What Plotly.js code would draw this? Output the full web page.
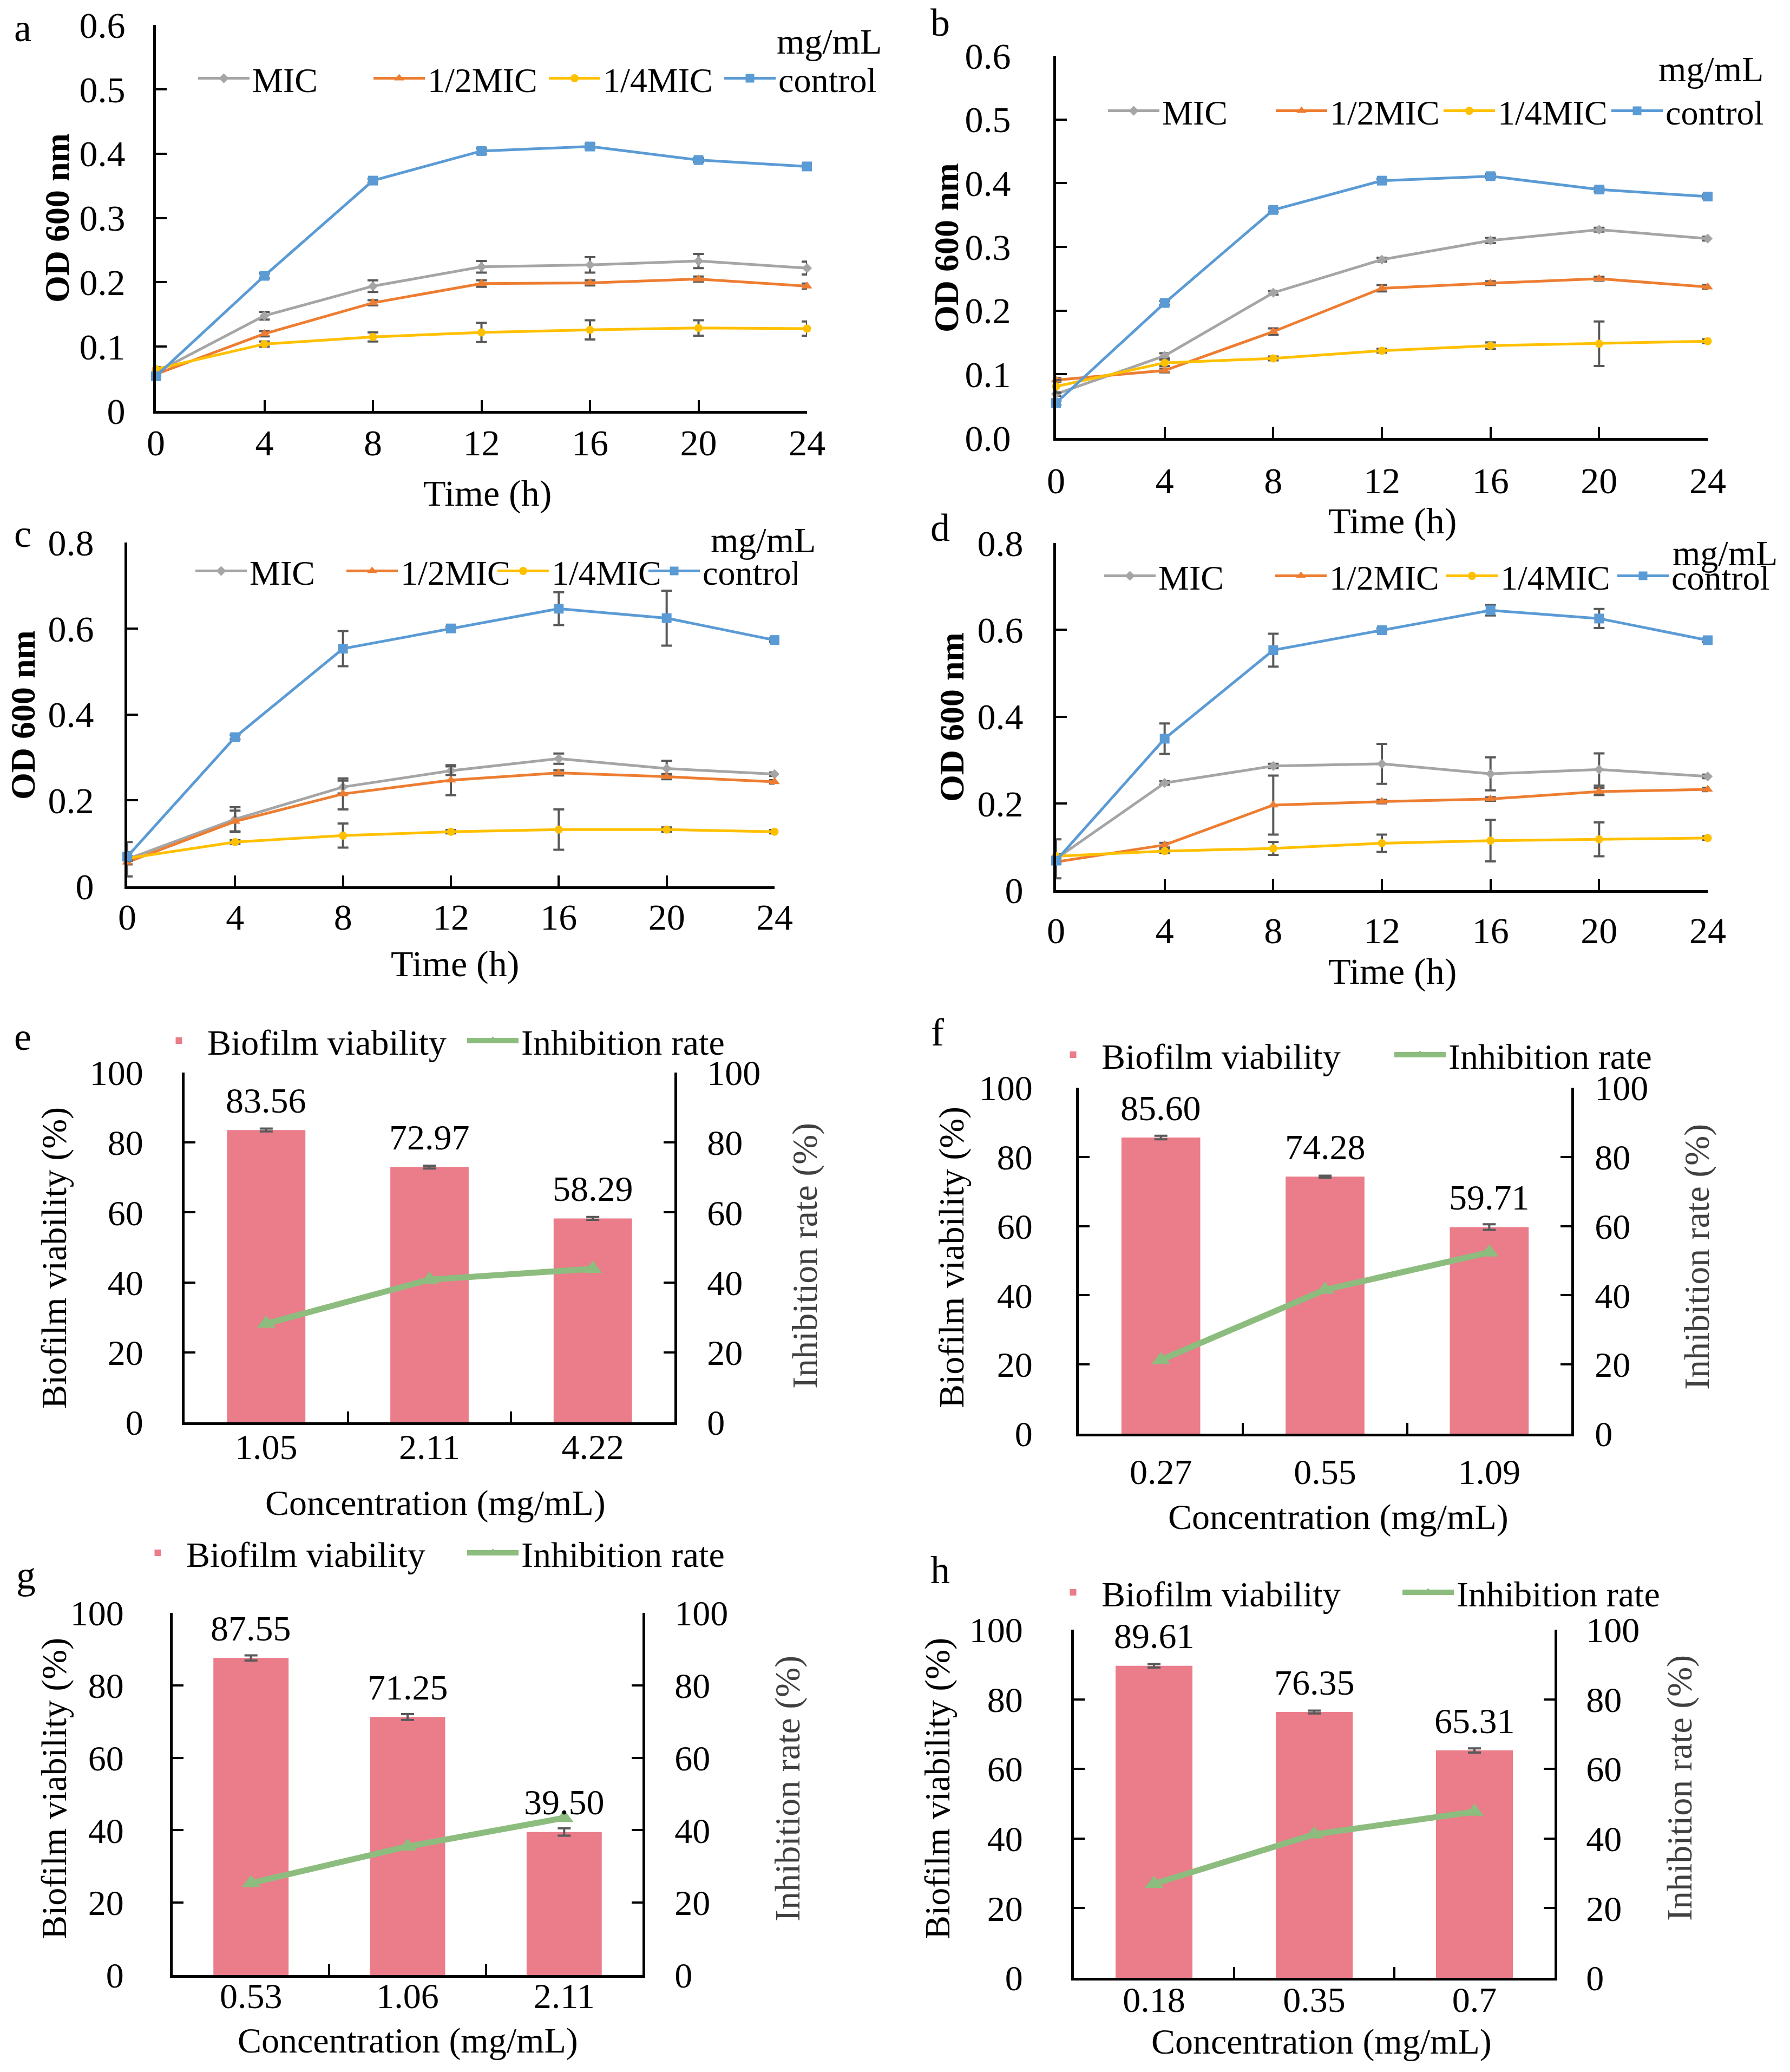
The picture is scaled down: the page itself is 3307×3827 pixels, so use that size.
<!DOCTYPE html>
<html>
<head>
<meta charset="utf-8">
<script src="https://cdn.plot.ly/plotly-3.0.1.min.js"></script>
<style>
  html, body { margin: 0; padding: 0; background: #fff; }
  #chart { width: 3307px; height: 3827px; }
</style>
</head>
<body>
<div id="chart"></div>
<script>
// ---- data ----
const timePoints = [0, 4, 8, 12, 16, 20, 24];
const seriesNames = ['MIC', '1/2MIC', '1/4MIC', 'control'];

// panel a
const aMIC = [0.060, 0.148, 0.194, 0.224, 0.227, 0.233, 0.222];
const aMICErr = [0.003, 0.006, 0.009, 0.009, 0.012, 0.011, 0.010];
const aHalf = [0.057, 0.120, 0.168, 0.198, 0.199, 0.205, 0.194];
const aHalfErr = [0.003, 0.004, 0.004, 0.005, 0.004, 0.004, 0.004];
const aQuarter = [0.065, 0.104, 0.115, 0.122, 0.126, 0.129, 0.128];
const aQuarterErr = [0.003, 0.004, 0.007, 0.015, 0.015, 0.012, 0.011];
const aControl = [0.054, 0.210, 0.358, 0.404, 0.411, 0.390, 0.380];
const aControlErr = [0.003, 0.004, 0.003, 0.004, 0.004, 0.003, 0.003];

// panel b
const bMIC = [0.069, 0.129, 0.228, 0.280, 0.310, 0.327, 0.313];
const bMICErr = [0.003, 0.004, 0.003, 0.003, 0.004, 0.003, 0.003];
const bHalf = [0.091, 0.106, 0.167, 0.235, 0.243, 0.250, 0.237];
const bHalfErr = [0.003, 0.003, 0.005, 0.005, 0.003, 0.003, 0.003];
const bQuarter = [0.081, 0.118, 0.125, 0.137, 0.145, 0.148, 0.152];
const bQuarterErr = [0.010, 0.005, 0.003, 0.003, 0.005, 0.035, 0.003];
const bControl = [0.055, 0.212, 0.358, 0.404, 0.411, 0.390, 0.379];
const bControlErr = [0.003, 0.003, 0.003, 0.003, 0.003, 0.003, 0.003];

// panel c
const cMIC = [0.063, 0.156, 0.231, 0.269, 0.297, 0.274, 0.261];
const cMICErr = [0.040, 0.028, 0.015, 0.010, 0.012, 0.018, 0.004];
const cHalf = [0.056, 0.151, 0.215, 0.247, 0.264, 0.255, 0.243];
const cHalfErr = [0.005, 0.025, 0.036, 0.035, 0.006, 0.006, 0.004];
const cQuarter = [0.065, 0.103, 0.118, 0.127, 0.132, 0.132, 0.127];
const cQuarterErr = [0.005, 0.004, 0.028, 0.004, 0.047, 0.005, 0.004];
const cControl = [0.069, 0.347, 0.553, 0.600, 0.646, 0.624, 0.573];
const cControlErr = [0.010, 0.005, 0.041, 0.004, 0.038, 0.064, 0.004];

// panel d
const dMIC = [0.072, 0.247, 0.286, 0.291, 0.268, 0.278, 0.262];
const dMICErr = [0.045, 0.004, 0.005, 0.046, 0.038, 0.037, 0.004];
const dHalf = [0.065, 0.104, 0.196, 0.204, 0.210, 0.227, 0.232];
const dHalfErr = [0.005, 0.005, 0.068, 0.004, 0.004, 0.008, 0.004];
const dQuarter = [0.078, 0.090, 0.096, 0.108, 0.114, 0.117, 0.120];
const dQuarterErr = [0.005, 0.004, 0.015, 0.020, 0.048, 0.039, 0.004];
const dControl = [0.068, 0.349, 0.553, 0.599, 0.645, 0.626, 0.576];
const dControlErr = [0.005, 0.035, 0.038, 0.004, 0.012, 0.022, 0.004];

// panels e-h
const eConc = ['1.05', '2.11', '4.22'];
const eViability = [83.56, 72.97, 58.29];
const eViabilityErr = [0.4, 0.4, 0.4];
const eInhibition = [28.2, 40.8, 43.9];

const fConc = ['0.27', '0.55', '1.09'];
const fViability = [85.60, 74.28, 59.71];
const fViabilityErr = [0.5, 0.3, 0.8];
const fInhibition = [21.3, 41.6, 52.4];

const gConc = ['0.53', '1.06', '2.11'];
const gViability = [87.55, 71.25, 39.50];
const gViabilityErr = [0.7, 0.8, 1.0];
const gInhibition = [25.4, 35.5, 43.4];

const hConc = ['0.18', '0.35', '0.7'];
const hViability = [89.61, 76.35, 65.31];
const hViabilityErr = [0.5, 0.4, 0.6];
const hInhibition = [27.0, 41.2, 47.7];

// ---- styling ----
const W = 3307, H = 3827;
const SERIF = 'Liberation Serif, Times New Roman, serif';
const lineColors = ['#a5a5a5', '#ed7d31', '#ffc000', '#5b9bd5'];
const lineSymbols = ['diamond', 'triangle-up', 'circle', 'square'];
const lineSizes = [14, 17, 15, 18];
const barColor = '#eb7c8a';
const inhibColor = '#8dbd7e';
const errColor = '#595959';

function px(x) { return x / W; }
function py(y) { return 1 - y / H; }

const linePanels = [
    {letter: 'a', series: [aMIC, aHalf, aQuarter, aControl], errs: [aMICErr, aHalfErr, aQuarterErr, aControlErr],
     ymax: 0.6, dtick: 0.1, fmt: '', box: [288, 1491, 46, 759], xStand: -5, yStand: 38,
     legend: [361, 145, 214], mg: [1532, 77], let: [42, 52], xt: [900, 911], yt: [106, 403]},
    {letter: 'b', series: [bMIC, bHalf, bQuarter, bControl], errs: [bMICErr, bHalfErr, bQuarterErr, bControlErr],
     ymax: 0.6, dtick: 0.1, fmt: '.1f', box: [1951, 3155, 103, 809], xStand: 15, yStand: 65,
     legend: [2042, 205, 200], mg: [3161, 128], let: [1737, 42], xt: [2572, 962], yt: [1748, 458]},
    {letter: 'c', series: [cMIC, cHalf, cQuarter, cControl], errs: [cMICErr, cHalfErr, cQuarterErr, cControlErr],
     ymax: 0.8, dtick: 0.2, fmt: '', box: [235, 1431, 1002, 1637], xStand: -7, yStand: 43,
     legend: [356, 1055, 169], mg: [1410, 998], let: [42, 986], xt: [841, 1780], yt: [42, 1321]},
    {letter: 'd', series: [dMIC, dHalf, dQuarter, dControl], errs: [dMICErr, dHalfErr, dQuarterErr, dControlErr],
     ymax: 0.8, dtick: 0.2, fmt: '', box: [1951, 3155, 1003, 1644], xStand: 11, yStand: 42,
     legend: [2035, 1064, 206], mg: [3187, 1021], let: [1737, 975], xt: [2572, 1794], yt: [1758, 1324]}
];

const barPanels = [
    {letter: 'e', conc: eConc, viab: eViability, err: eViabilityErr, inhib: eInhibition,
     box: [341, 1246, 1981, 2627], xStand: -16, yStand: 58, rStand: 42,
     legend: [278, 1922, 470], let: [42, 1915], xt: [804, 2776], yt: [100, 2324], rt: [1487, 2320]},
    {letter: 'f', conc: fConc, viab: fViability, err: fViabilityErr, inhib: fInhibition,
     box: [1993, 2903, 2009, 2648], xStand: 9, yStand: 67, rStand: 25,
     legend: [1930, 1948, 531], let: [1732, 1907], xt: [2472, 2802], yt: [1758, 2322], rt: [3135, 2322]},
    {letter: 'g', conc: gConc, viab: gViability, err: gViabilityErr, inhib: gInhibition,
     box: [319, 1187, 2979, 3648], xStand: -23, yStand: 72, rStand: 41,
     legend: [239, 2868, 509], let: [48, 2910], xt: [753, 3769], yt: [100, 3304], rt: [1455, 3304]},
    {letter: 'h', conc: hConc, viab: hViability, err: hViabilityErr, inhib: hInhibition,
     box: [1984, 2872, 3010, 3653], xStand: -21, yStand: 76, rStand: 40,
     legend: [1930, 2941, 546], let: [1737, 2900], xt: [2441, 3771], yt: [1732, 3303], rt: [3103, 3303]}
];

const traces = [];
const layout = {
    width: W, height: H,
    margin: {l: 0, r: 0, t: 0, b: 0},
    paper_bgcolor: '#fff', plot_bgcolor: 'rgba(0,0,0,0)',
    font: {family: SERIF, color: '#000'},
    bargap: 0.52,
    showlegend: true,
    annotations: []
};

function axisBase(fontSize, standoff) {
    return {
        showline: true, linewidth: 5, linecolor: '#000',
        ticks: 'inside', ticklen: 20, tickwidth: 4, tickcolor: '#000',
        showgrid: false, zeroline: false, fixedrange: true,
        tickfont: {family: SERIF, size: fontSize, color: '#000'},
        ticklabelstandoff: standoff
    };
}

function addText(text, x, y, size, opts) {
    layout.annotations.push(Object.assign({
        text: text, xref: 'paper', yref: 'paper', x: px(x), y: py(y),
        xanchor: 'center', yanchor: 'middle', showarrow: false,
        font: {family: SERIF, size: size, color: '#000'}
    }, opts || {}));
}

function legendCfg(cfg, size) {
    return {
        x: px(cfg[0]), y: py(cfg[1]), xanchor: 'left', yanchor: 'middle',
        orientation: 'h', bgcolor: 'rgba(0,0,0,0)', borderwidth: 0,
        entrywidth: cfg[2], entrywidthmode: 'pixels', itemwidth: 95,
        font: {family: SERIF, size: size, color: '#000'},
        itemclick: false, itemdoubleclick: false
    };
}

// line panels a-d
linePanels.forEach((p, i) => {
    const k = i + 1;
    const xa = k === 1 ? 'x' : 'x' + k;
    const ya = k === 1 ? 'y' : 'y' + k;
    const lg = k === 1 ? 'legend' : 'legend' + k;
    const [l, r, t, b] = p.box;

    layout['xaxis' + (k === 1 ? '' : k)] = Object.assign(axisBase(68, p.xStand), {
        domain: [px(l), px(r)], anchor: ya, range: [0, 24], tickvals: timePoints
    });
    layout['yaxis' + (k === 1 ? '' : k)] = Object.assign(axisBase(68, p.yStand), {
        domain: [py(b), py(t)], anchor: xa, range: [0, p.ymax], tick0: 0, dtick: p.dtick,
        tickformat: p.fmt
    });
    layout[lg] = legendCfg(p.legend, 64);

    p.series.forEach((vals, s) => {
        traces.push({
            type: 'scatter', mode: 'lines+markers', name: seriesNames[s],
            x: timePoints, y: vals, xaxis: xa, yaxis: ya, legend: lg,
            line: {color: lineColors[s], width: 5},
            marker: {color: lineColors[s], symbol: lineSymbols[s], size: lineSizes[s]},
            error_y: {type: 'data', array: p.errs[s], visible: true, color: errColor, thickness: 4, width: 10},
            cliponaxis: false, hoverinfo: 'skip'
        });
    });

    addText('mg/mL', p.mg[0], p.mg[1], 66);
    addText(p.letter, p.let[0], p.let[1], 72);
    addText('Time (h)', p.xt[0], p.xt[1], 68);
    addText('<b>OD 600 nm</b>', p.yt[0], p.yt[1], 64, {textangle: -90});
});

// bar panels e-h
barPanels.forEach((p, i) => {
    const k = i + 5;
    const rk = i + 9;
    const xa = 'x' + k, ya = 'y' + k, yr = 'y' + rk;
    const lg = 'legend' + k;
    const [l, r, t, b] = p.box;

    layout['xaxis' + k] = Object.assign(axisBase(66, p.xStand), {
        domain: [px(l), px(r)], anchor: ya, type: 'category', tickson: 'boundaries',
        range: [-0.5, 2.5]
    });
    layout['yaxis' + k] = Object.assign(axisBase(66, p.yStand), {
        domain: [py(b), py(t)], anchor: xa, range: [0, 100], tick0: 0, dtick: 20
    });
    layout['yaxis' + rk] = Object.assign(axisBase(66, p.rStand), {
        overlaying: ya, side: 'right', anchor: xa, range: [0, 100], tick0: 0, dtick: 20
    });
    layout[lg] = legendCfg(p.legend, 66);

    traces.push({
        type: 'bar', name: 'Biofilm viability', x: p.conc, y: p.viab,
        xaxis: xa, yaxis: ya, legend: lg,
        marker: {color: barColor},
        error_y: {type: 'data', array: p.err, visible: true, color: errColor, thickness: 4, width: 12},
        hoverinfo: 'skip'
    });
    traces.push({
        type: 'scatter', mode: 'lines+markers', name: 'Inhibition rate',
        x: p.conc, y: p.inhib, xaxis: xa, yaxis: yr, legend: lg,
        line: {color: inhibColor, width: 11},
        marker: {color: inhibColor, symbol: 'triangle-up', size: 30},
        cliponaxis: false, hoverinfo: 'skip'
    });

    // value labels above the bars (category index on the x axis)
    p.viab.forEach((v, j) => {
        layout.annotations.push({
            text: v.toFixed(2), x: j, y: v, xref: xa, yref: ya,
            xanchor: 'center', yanchor: 'middle', yshift: 55, showarrow: false,
            font: {family: SERIF, size: 66, color: '#000'}
        });
    });

    addText(p.letter, p.let[0], p.let[1], 72);
    addText('Concentration (mg/mL)', p.xt[0], p.xt[1], 66);
    addText('Biofilm viability (%)', p.yt[0], p.yt[1], 66, {textangle: -90});
    addText('Inhibition rate (%)', p.rt[0], p.rt[1], 66,
        {textangle: -90, font: {family: SERIF, size: 66, color: '#404040'}});
});

Plotly.newPlot('chart', traces, layout, {displayModeBar: false, staticPlot: true});
</script>
</body>
</html>
